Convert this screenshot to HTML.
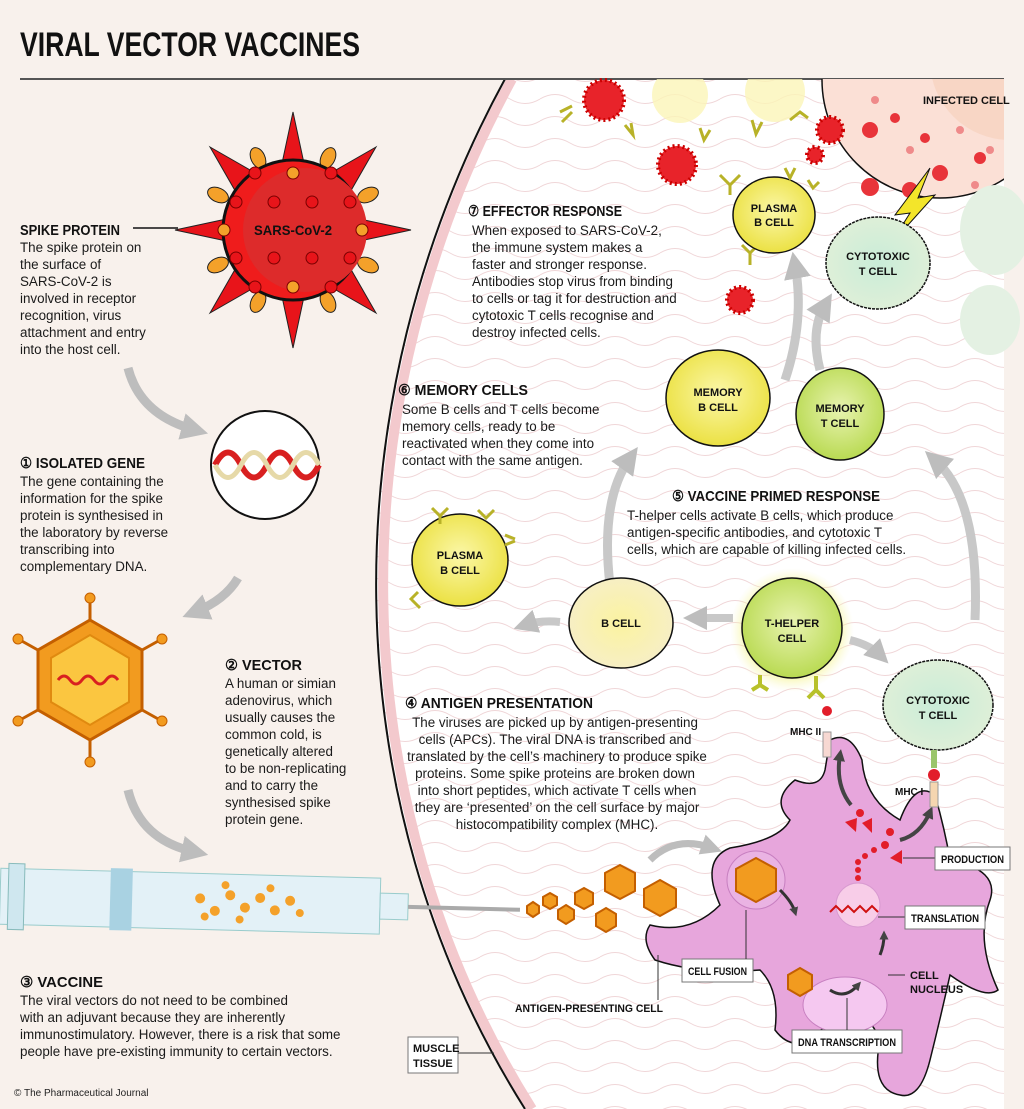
<!DOCTYPE html>
<html><head><meta charset="utf-8"><style>
html,body{margin:0;padding:0;background:#f8f1ec;}
svg{display:block}
.h{font-family:"Liberation Sans",sans-serif;font-weight:bold;fill:#111}
.t{font-family:"Liberation Sans",sans-serif;font-size:13.4px;fill:#1a1a1a}
.c{font-family:"Liberation Sans",sans-serif;font-weight:bold;font-size:11px;fill:#111;text-anchor:middle}
</style></head><body>
<svg width="1024" height="1109" viewBox="0 0 1024 1109" xmlns="http://www.w3.org/2000/svg">
<defs>
<pattern id="wv" width="60" height="22" patternUnits="userSpaceOnUse">
<path d="M0 11 Q15 2 30 11 T60 11" fill="none" stroke="#f0d6d8" stroke-width="1"/>
</pattern>
<radialGradient id="yl" cx="50%" cy="45%" r="60%"><stop offset="0" stop-color="#fbf7a8"/><stop offset="1" stop-color="#eadf3a"/></radialGradient>
<radialGradient id="gr" cx="50%" cy="45%" r="60%"><stop offset="0" stop-color="#e8f3b0"/><stop offset="1" stop-color="#b5d84a"/></radialGradient>
<radialGradient id="tc" cx="50%" cy="50%" r="60%"><stop offset="0" stop-color="#c9ecd8"/><stop offset="1" stop-color="#e2f0d8"/></radialGradient>
<radialGradient id="bc" cx="50%" cy="50%" r="60%"><stop offset="0" stop-color="#fbf3a0"/><stop offset="1" stop-color="#f6eecb"/></radialGradient>
<radialGradient id="glow" cx="50%" cy="50%" r="50%"><stop offset="0.6" stop-color="#f2f25a"/><stop offset="1" stop-color="#f8f6c0" stop-opacity="0"/></radialGradient>
<marker id="ag" viewBox="0 0 10 10" refX="5" refY="5" markerWidth="3" markerHeight="3" orient="auto"><path d="M0 0L10 5L0 10z" fill="#bdbdbd"/></marker>
<marker id="ad" viewBox="0 0 10 10" refX="5" refY="5" markerWidth="3" markerHeight="3" orient="auto"><path d="M0 0L10 5L0 10z" fill="#444"/></marker>
<clipPath id="panel"><path d="M505 79 C330 400 330 800 525 1109 L1004 1109 L1004 79Z"/></clipPath>
</defs>

<!-- right panel -->
<path d="M505 79 C330 400 330 800 525 1109 L1004 1109 L1004 79Z" fill="#fff"/>
<path d="M505 79 C330 400 330 800 525 1109 L1004 1109 L1004 79Z" fill="url(#wv)"/>
<path d="M512 79 C337 400 337 800 532 1109" fill="none" stroke="#f3c9cd" stroke-width="10" clip-path="url(#panel)"/>
<path d="M505 79 C330 400 330 800 525 1109" fill="none" stroke="#111" stroke-width="2"/>

<!-- title -->
<text x="20" y="56" class="h" font-size="34" textLength="340" lengthAdjust="spacingAndGlyphs">VIRAL VECTOR VACCINES</text>
<line x1="20" y1="79" x2="1004" y2="79" stroke="#555" stroke-width="2"/>

<g clip-path="url(#panel)">
<!-- infected cell -->
<circle cx="940" cy="80" r="118" fill="#fbe0d6" stroke="#111" stroke-width="1.5"/>
<circle cx="1010" cy="60" r="80" fill="#f7cfb9" opacity="0.6"/>
<g fill="#e8343a"><circle cx="870" cy="130" r="8"/><circle cx="870" cy="187" r="9"/><circle cx="910" cy="190" r="8"/><circle cx="940" cy="173" r="8"/><circle cx="980" cy="158" r="6"/><circle cx="895" cy="118" r="5"/><circle cx="925" cy="138" r="5"/></g>
<g fill="#ef8a8a"><circle cx="875" cy="100" r="4"/><circle cx="910" cy="150" r="4"/><circle cx="960" cy="130" r="4"/><circle cx="975" cy="185" r="4"/><circle cx="990" cy="150" r="4"/></g>
<!-- ghost yellow cells -->
<circle cx="680" cy="95" r="28" fill="#fbf5b8" opacity="0.8"/>
<circle cx="775" cy="92" r="30" fill="#fbf5b8" opacity="0.8"/>
</g>
<text x="923" y="104" class="h" font-size="11">INFECTED CELL</text>

<!-- virus -->
<g transform="translate(293,230)">
<g fill="#e8141a" stroke="#222" stroke-width="1">
<polygon points="0,-118 12,-62 -12,-62"/><polygon points="0,118 12,62 -12,62"/>
<polygon points="-118,0 -62,12 -62,-12"/><polygon points="118,0 62,12 62,-12"/>
<polygon points="-83,-83 -36,-56 -56,-36"/><polygon points="83,-83 36,-56 56,-36"/>
<polygon points="-83,83 -36,56 -56,36"/><polygon points="83,83 36,56 56,36"/>
</g>
<g fill="#f4a12a" stroke="#222" stroke-width="1">
<ellipse cx="-35" cy="-72" rx="7" ry="11" transform="rotate(-25 -35 -72)"/><ellipse cx="35" cy="-72" rx="7" ry="11" transform="rotate(25 35 -72)"/>
<ellipse cx="-35" cy="72" rx="7" ry="11" transform="rotate(25 -35 72)"/><ellipse cx="35" cy="72" rx="7" ry="11" transform="rotate(-25 35 72)"/>
<ellipse cx="-75" cy="-35" rx="11" ry="7" transform="rotate(25 -75 -35)"/><ellipse cx="75" cy="-35" rx="11" ry="7" transform="rotate(-25 75 -35)"/>
<ellipse cx="-75" cy="35" rx="11" ry="7" transform="rotate(-25 -75 35)"/><ellipse cx="75" cy="35" rx="11" ry="7" transform="rotate(25 75 35)"/>
</g>
<circle r="70" fill="#ef1c1c" stroke="#111" stroke-width="3"/>
<circle cx="12" r="62" fill="#dd2b2b" />
<g fill="#e8141a" stroke="#7a0000" stroke-width="1">
<circle cx="-38" cy="-57" r="6"/><circle cx="38" cy="-57" r="6"/><circle cx="-57" cy="-28" r="6"/><circle cx="-19" cy="-28" r="6"/><circle cx="19" cy="-28" r="6"/><circle cx="57" cy="-28" r="6"/>
<circle cx="-57" cy="28" r="6"/><circle cx="-19" cy="28" r="6"/><circle cx="19" cy="28" r="6"/><circle cx="57" cy="28" r="6"/><circle cx="-38" cy="57" r="6"/><circle cx="38" cy="57" r="6"/>
</g>
<g fill="#f4a12a" stroke="#7a0000"><circle cy="-57" r="6"/><circle cy="57" r="6"/><circle cx="-69" r="6"/><circle cx="69" r="6"/></g>
<text x="0" y="5" class="h" font-size="14" text-anchor="middle" textLength="78" lengthAdjust="spacingAndGlyphs">SARS-CoV-2</text>
</g>

<text x="20" y="235" class="h" font-size="15" textLength="100" lengthAdjust="spacingAndGlyphs">SPIKE PROTEIN</text>
<line x1="133" y1="228" x2="178" y2="228" stroke="#111" stroke-width="1.5"/>
<text class="t"><tspan x="20" y="252">The spike protein on</tspan><tspan x="20" y="269">the surface of</tspan><tspan x="20" y="286">SARS-CoV-2 is</tspan><tspan x="20" y="303">involved in receptor</tspan><tspan x="20" y="320">recognition, virus</tspan><tspan x="20" y="337">attachment and entry</tspan><tspan x="20" y="354">into the host cell.</tspan></text>

<!-- grey arrows left column -->
<path d="M128 368 Q140 415 195 430" fill="none" stroke="#bdbdbd" stroke-width="9" marker-end="url(#ag)"/>
<path d="M238 578 Q225 600 195 612" fill="none" stroke="#bdbdbd" stroke-width="9" marker-end="url(#ag)"/>
<path d="M128 790 Q140 840 195 852" fill="none" stroke="#bdbdbd" stroke-width="9" marker-end="url(#ag)"/>

<!-- DNA circle -->
<circle cx="265" cy="465" r="54" fill="#fff" stroke="#111" stroke-width="2"/>
<path d="M215 465 Q228 440 241 465 T267 465 T293 465 T319 465" fill="none" stroke="#d82020" stroke-width="6"/>
<path d="M215 465 Q228 490 241 465 T267 465 T293 465 T319 465" fill="none" stroke="#e6d9a8" stroke-width="5"/>

<text x="20" y="468" class="h" font-size="15" textLength="125" lengthAdjust="spacingAndGlyphs">① ISOLATED GENE</text>
<text class="t"><tspan x="20" y="486">The gene containing the</tspan><tspan x="20" y="503">information for the spike</tspan><tspan x="20" y="520">protein is synthesised in</tspan><tspan x="20" y="537">the laboratory by reverse</tspan><tspan x="20" y="554">transcribing into</tspan><tspan x="20" y="571">complementary DNA.</tspan></text>

<!-- vector hexagon -->
<g transform="translate(90,680)" stroke="#c45f00">
<g stroke-width="3">
<line x1="0" y1="-52" x2="0" y2="-80"/><line x1="0" y1="52" x2="0" y2="80"/>
<line x1="-45" y1="-26" x2="-70" y2="-40"/><line x1="45" y1="-26" x2="70" y2="-40"/>
<line x1="-45" y1="26" x2="-70" y2="40"/><line x1="45" y1="26" x2="70" y2="40"/>
</g>
<g fill="#f29b1f"><circle cy="-82" r="5"/><circle cy="82" r="5"/><circle cx="-72" cy="-41" r="5"/><circle cx="72" cy="-41" r="5"/><circle cx="-72" cy="41" r="5"/><circle cx="72" cy="41" r="5"/></g>
<polygon points="0,-60 52,-30 52,30 0,60 -52,30 -52,-30" fill="#f29b1f" stroke-width="3"/>
<polygon points="0,-45 39,-22 39,22 0,45 -39,22 -39,-22" fill="#fbc640" stroke="#e08a10" stroke-width="2"/>
<path d="M-32 0 Q-26 -8 -20 0 T-8 0 T4 0 T16 0 T28 0" fill="none" stroke="#d82020" stroke-width="3"/>
</g>

<text x="225" y="670" class="h" font-size="15" textLength="77" lengthAdjust="spacingAndGlyphs">② VECTOR</text>
<text class="t"><tspan x="225" y="688">A human or simian</tspan><tspan x="225" y="705">adenovirus, which</tspan><tspan x="225" y="722">usually causes the</tspan><tspan x="225" y="739">common cold, is</tspan><tspan x="225" y="756">genetically altered</tspan><tspan x="225" y="773">to be non-replicating</tspan><tspan x="225" y="790">and to carry the</tspan><tspan x="225" y="807">synthesised spike</tspan><tspan x="225" y="824">protein gene.</tspan></text>

<!-- syringe -->
<g transform="rotate(1.5 260 905)">
<rect x="0" y="875" width="380" height="56" fill="#e3f1f7" stroke="#9cc" stroke-width="1"/>
<rect x="8" y="870" width="16" height="66" fill="#cfe7ef" stroke="#8bb"/>
<rect x="110" y="872" width="22" height="62" fill="#a9d2e2"/>
<rect x="380" y="890" width="28" height="26" fill="#e3f1f7" stroke="#9cc"/>
<line x1="408" y1="903" x2="520" y2="903" stroke="#aaa" stroke-width="4"/>
<g fill="#f4a12a"><circle cx="200" cy="900" r="5"/><circle cx="215" cy="912" r="5"/><circle cx="230" cy="896" r="5"/><circle cx="245" cy="908" r="5"/><circle cx="260" cy="898" r="5"/><circle cx="275" cy="910" r="5"/><circle cx="290" cy="900" r="5"/><circle cx="205" cy="918" r="4"/><circle cx="240" cy="920" r="4"/><circle cx="270" cy="888" r="4"/><circle cx="300" cy="912" r="4"/><circle cx="225" cy="886" r="4"/></g>
</g>
<!-- released vectors -->
<g fill="#f29b1f" stroke="#c45f00" stroke-width="2">
<polygon points="533,902 539,906 539,913 533,917 527,913 527,906"/>
<polygon points="550,893 557,897 557,905 550,909 543,905 543,897"/>
<polygon points="566,905 574,910 574,919 566,924 558,919 558,910"/>
<polygon points="584,888 593,893 593,904 584,909 575,904 575,893"/>
<polygon points="606,908 616,914 616,926 606,932 596,926 596,914"/>
<polygon points="620,865 635,873 635,891 620,899 605,891 605,873"/>
<polygon points="660,880 676,889 676,907 660,916 644,907 644,889"/>
</g>
<path d="M650 860 Q675 835 712 848" fill="none" stroke="#bdbdbd" stroke-width="7" marker-end="url(#ag)"/>

<text x="20" y="987" class="h" font-size="15" textLength="83" lengthAdjust="spacingAndGlyphs">③ VACCINE</text>
<text class="t"><tspan x="20" y="1005">The viral vectors do not need to be combined</tspan><tspan x="20" y="1022">with an adjuvant because they are inherently</tspan><tspan x="20" y="1039">immunostimulatory. However, there is a risk that some</tspan><tspan x="20" y="1056">people have pre-existing immunity to certain vectors.</tspan></text>
<text x="14" y="1096" font-family="Liberation Sans,sans-serif" font-size="10" fill="#222">© The Pharmaceutical Journal</text>

<!-- small red viruses -->
<g fill="#e8232a" stroke="#c00" stroke-width="4" stroke-dasharray="2 3">
<circle cx="604" cy="100" r="20"/><circle cx="677" cy="165" r="19"/><circle cx="830" cy="130" r="13"/><circle cx="740" cy="300" r="13"/><circle cx="815" cy="155" r="8"/></g>
<g fill="none" stroke="#b8b228" stroke-width="3">
<path d="M560 112 l12 -6 M562 122 l10 -10"/><path d="M625 125 l8 10 l-2 -12"/><path d="M700 128 l4 12 l6 -10"/><path d="M752 120 l4 14 l6 -12"/><path d="M790 120 l10 -8 l8 6"/><path d="M720 175 l10 10 l10 -10 M730 185 v10"/><path d="M742 245 l8 8 l8 -8 M750 253 v12"/>
</g>

<!-- plasma B cell top -->
<ellipse cx="774" cy="215" rx="41" ry="38" fill="url(#yl)" stroke="#111" stroke-width="1.5"/>
<text x="774" y="212" class="c">PLASMA</text><text x="774" y="226" class="c">B CELL</text>
<g fill="none" stroke="#b8b228" stroke-width="3"><path d="M785 168 l5 10 l5 -10"/><path d="M808 180 l5 8 l6 -6"/></g>

<!-- lightning -->
<polygon points="930,168 895,215 910,213 890,245 935,195 918,198" fill="#f3e52a" stroke="#111" stroke-width="1"/>
<!-- cytotoxic T top -->
<ellipse cx="878" cy="263" rx="52" ry="46" fill="url(#tc)" stroke="#111" stroke-width="1.5" stroke-dasharray="3 1"/>
<text x="878" y="260" class="c">CYTOTOXIC</text><text x="878" y="275" class="c">T CELL</text>
<ellipse cx="995" cy="230" rx="35" ry="45" fill="#e4f1e3"/><ellipse cx="990" cy="320" rx="30" ry="35" fill="#e4f1e3"/>

<text x="468" y="216" class="h" font-size="15" textLength="154" lengthAdjust="spacingAndGlyphs">⑦ EFFECTOR RESPONSE</text>
<text class="t"><tspan x="472" y="235">When exposed to SARS-CoV-2,</tspan><tspan x="472" y="252">the immune system makes a</tspan><tspan x="472" y="269">faster and stronger response.</tspan><tspan x="472" y="286">Antibodies stop virus from binding</tspan><tspan x="472" y="303">to cells or tag it for destruction and</tspan><tspan x="472" y="320">cytotoxic T cells recognise and</tspan><tspan x="472" y="337">destroy infected cells.</tspan></text>

<!-- arrows up -->
<path d="M785 380 Q805 320 795 265" fill="none" stroke="#c8c8c8" stroke-width="9" marker-end="url(#ag)"/>
<path d="M820 370 Q810 330 825 305" fill="none" stroke="#c8c8c8" stroke-width="9" marker-end="url(#ag)"/>

<!-- memory cells -->
<ellipse cx="718" cy="398" rx="52" ry="48" fill="url(#yl)" stroke="#111" stroke-width="1.5"/>
<text x="718" y="396" class="c">MEMORY</text><text x="718" y="411" class="c">B CELL</text>
<ellipse cx="840" cy="414" rx="44" ry="46" fill="url(#gr)" stroke="#111" stroke-width="1.5"/>
<text x="840" y="412" class="c">MEMORY</text><text x="840" y="427" class="c">T CELL</text>

<text x="398" y="395" class="h" font-size="15" textLength="130" lengthAdjust="spacingAndGlyphs">⑥ MEMORY CELLS</text>
<text class="t"><tspan x="402" y="414">Some B cells and T cells become</tspan><tspan x="402" y="431">memory cells, ready to be</tspan><tspan x="402" y="448">reactivated when they come into</tspan><tspan x="402" y="465">contact with the same antigen.</tspan></text>

<path d="M610 585 Q600 500 630 458" fill="none" stroke="#c8c8c8" stroke-width="9" marker-end="url(#ag)"/>
<path d="M975 620 Q980 500 935 460" fill="none" stroke="#c8c8c8" stroke-width="9" marker-end="url(#ag)"/>

<text x="672" y="501" class="h" font-size="15" textLength="208" lengthAdjust="spacingAndGlyphs">⑤ VACCINE PRIMED RESPONSE</text>
<text class="t"><tspan x="627" y="520">T-helper cells activate B cells, which produce</tspan><tspan x="627" y="537">antigen-specific antibodies, and cytotoxic T</tspan><tspan x="627" y="554">cells, which are capable of killing infected cells.</tspan></text>

<!-- plasma B left -->
<ellipse cx="460" cy="560" rx="48" ry="46" fill="url(#yl)" stroke="#111" stroke-width="1.5"/>
<text x="460" y="559" class="c">PLASMA</text><text x="460" y="574" class="c">B CELL</text>
<g fill="none" stroke="#b8b228" stroke-width="3"><path d="M432 508 l8 8 l8 -8 M440 516 v8"/><path d="M478 510 l8 8 l8 -8"/><path d="M505 535 l10 4 M505 545 l10 -4"/><path d="M410 600 l8 -8 M420 608 l-8 -8"/></g>

<path d="M560 622 Q540 620 525 625" fill="none" stroke="#c8c8c8" stroke-width="8" marker-end="url(#ag)"/>
<ellipse cx="621" cy="623" rx="52" ry="45" fill="url(#bc)" stroke="#111" stroke-width="1.5"/>
<text x="621" y="627" class="c">B CELL</text>
<path d="M733 618 L695 618" fill="none" stroke="#c8c8c8" stroke-width="8" marker-end="url(#ag)"/>
<circle cx="792" cy="630" r="62" fill="url(#glow)"/>
<ellipse cx="792" cy="628" rx="50" ry="50" fill="url(#gr)" stroke="#111" stroke-width="1.5"/>
<text x="792" y="627" class="c">T-HELPER</text><text x="792" y="642" class="c">CELL</text>
<path d="M850 640 Q870 645 880 655" fill="none" stroke="#c8c8c8" stroke-width="8" marker-end="url(#ag)"/>
<g fill="none" stroke="#b8c12a" stroke-width="4"><path d="M760 675 v10 M752 690 l8 -5 l8 5"/><path d="M816 676 v14 M808 698 l8 -8 l8 8"/></g>

<ellipse cx="938" cy="705" rx="55" ry="45" fill="url(#tc)" stroke="#111" stroke-width="1.5" stroke-dasharray="3 1"/>
<text x="938" y="704" class="c">CYTOTOXIC</text><text x="938" y="719" class="c">T CELL</text>

<text x="405" y="708" class="h" font-size="15" textLength="188" lengthAdjust="spacingAndGlyphs">④ ANTIGEN PRESENTATION</text>
<text class="t" text-anchor="middle"><tspan x="555" y="727">The viruses are picked up by antigen-presenting</tspan><tspan x="555" y="744">cells (APCs). The viral DNA is transcribed and</tspan><tspan x="557" y="761">translated by the cell’s machinery to produce spike</tspan><tspan x="555" y="778">proteins. Some spike proteins are broken down</tspan><tspan x="557" y="795">into short peptides, which activate T cells when</tspan><tspan x="557" y="812">they are ‘presented’ on the cell surface by major</tspan><tspan x="557" y="829">histocompatibility complex (MHC).</tspan></text>

<!-- APC -->
<path d="M830 740 Q850 730 862 760 Q865 800 900 820 Q915 780 935 795 Q945 830 950 860 Q1000 870 990 900 Q975 940 998 990 Q985 1000 950 975 Q940 1020 930 1060 Q920 1100 900 1095 Q870 1090 880 1040 Q860 990 810 1040 Q790 1050 775 1030 Q780 990 760 970 Q700 975 655 960 Q640 940 650 925 Q690 935 720 905 Q700 860 730 848 Q780 840 790 820 Q770 800 795 780 Q820 790 825 770Z" fill="#e7a6dc" stroke="#111" stroke-width="1.5"/>
<circle cx="756" cy="880" r="29" fill="#eab3e3" stroke="#c77fc0"/>
<polygon points="756,858 776,869 776,891 756,902 736,891 736,869" fill="#f29b1f" stroke="#c45f00" stroke-width="2"/>
<ellipse cx="845" cy="1005" rx="42" ry="28" fill="#f5c8f0" stroke="#c77fc0"/>
<circle cx="858" cy="905" r="22" fill="#f8cde8" stroke="#d89ad0"/>
<path d="M830 912 l6 -6 l6 6 l6 -6 l6 6 l6 -6 l6 6 l6 -6 l6 6" fill="none" stroke="#d01010" stroke-width="2"/>
<polygon points="800,968 812,975 812,989 800,996 788,989 788,975" fill="#f29b1f" stroke="#c45f00" stroke-width="2"/>
<g fill="#e21d2a"><circle cx="860" cy="813" r="4"/><circle cx="890" cy="832" r="4"/><circle cx="885" cy="845" r="4"/><circle cx="874" cy="850" r="3"/><circle cx="865" cy="856" r="3"/><circle cx="858" cy="862" r="3"/><circle cx="858" cy="870" r="3"/><circle cx="858" cy="878" r="3"/><polygon points="845,822 857,818 856,832"/><polygon points="862,823 872,818 872,833"/><polygon points="890,858 902,850 902,864"/></g>
<path d="M851 805 Q835 785 840 755" fill="none" stroke="#444" stroke-width="4" marker-end="url(#ad)"/>
<path d="M900 840 Q920 835 930 812" fill="none" stroke="#444" stroke-width="4" marker-end="url(#ad)"/>
<path d="M830 990 Q845 1000 858 985" fill="none" stroke="#333" stroke-width="3" marker-end="url(#ad)"/>
<path d="M880 955 Q884 945 884 935" fill="none" stroke="#333" stroke-width="3" marker-end="url(#ad)"/>
<path d="M780 890 Q792 902 795 912" fill="none" stroke="#333" stroke-width="3" marker-end="url(#ad)"/>
<rect x="823" y="732" width="8" height="25" fill="#f7d8d2" stroke="#999"/><circle cx="827" cy="711" r="5" fill="#e21d2a"/>
<rect x="930" y="782" width="8" height="25" fill="#f5d6b0" stroke="#999"/><circle cx="934" cy="775" r="6" fill="#e21d2a"/>
<path d="M934 750 v18" stroke="#9ac56a" stroke-width="6"/>

<text x="790" y="735" class="h" font-size="10">MHC II</text>
<text x="895" y="795" class="h" font-size="10">MHC I</text>
<g font-family="Liberation Sans,sans-serif" font-weight="bold" font-size="11" fill="#111">
<line x1="903" y1="858" x2="935" y2="858" stroke="#333"/><rect x="935" y="847" width="75" height="23" fill="#fff" stroke="#777"/><text x="941" y="863" textLength="63" lengthAdjust="spacingAndGlyphs">PRODUCTION</text>
<line x1="878" y1="917" x2="905" y2="917" stroke="#333"/><rect x="905" y="906" width="80" height="23" fill="#fff" stroke="#777"/><text x="911" y="922" textLength="68" lengthAdjust="spacingAndGlyphs">TRANSLATION</text>
<rect x="682" y="959" width="71" height="23" fill="#fff" stroke="#777"/><text x="688" y="975" textLength="59" lengthAdjust="spacingAndGlyphs">CELL FUSION</text>
<line x1="746" y1="910" x2="746" y2="959" stroke="#333"/>
<text x="910" y="979">CELL</text><text x="910" y="993">NUCLEUS</text>
<line x1="888" y1="975" x2="905" y2="975" stroke="#333"/>
<rect x="792" y="1030" width="110" height="23" fill="#fff" stroke="#777"/><text x="798" y="1046" textLength="98" lengthAdjust="spacingAndGlyphs">DNA TRANSCRIPTION</text>
<line x1="847" y1="998" x2="847" y2="1030" stroke="#333"/>
<text x="515" y="1012" textLength="148" lengthAdjust="spacingAndGlyphs">ANTIGEN-PRESENTING CELL</text>
<line x1="658" y1="955" x2="658" y2="1000" stroke="#333"/>
<rect x="408" y="1037" width="50" height="36" fill="#fff" stroke="#777"/><text x="413" y="1052">MUSCLE</text><text x="413" y="1067">TISSUE</text>
<line x1="458" y1="1053" x2="494" y2="1053" stroke="#333"/>
</g>
</svg>
</body></html>
